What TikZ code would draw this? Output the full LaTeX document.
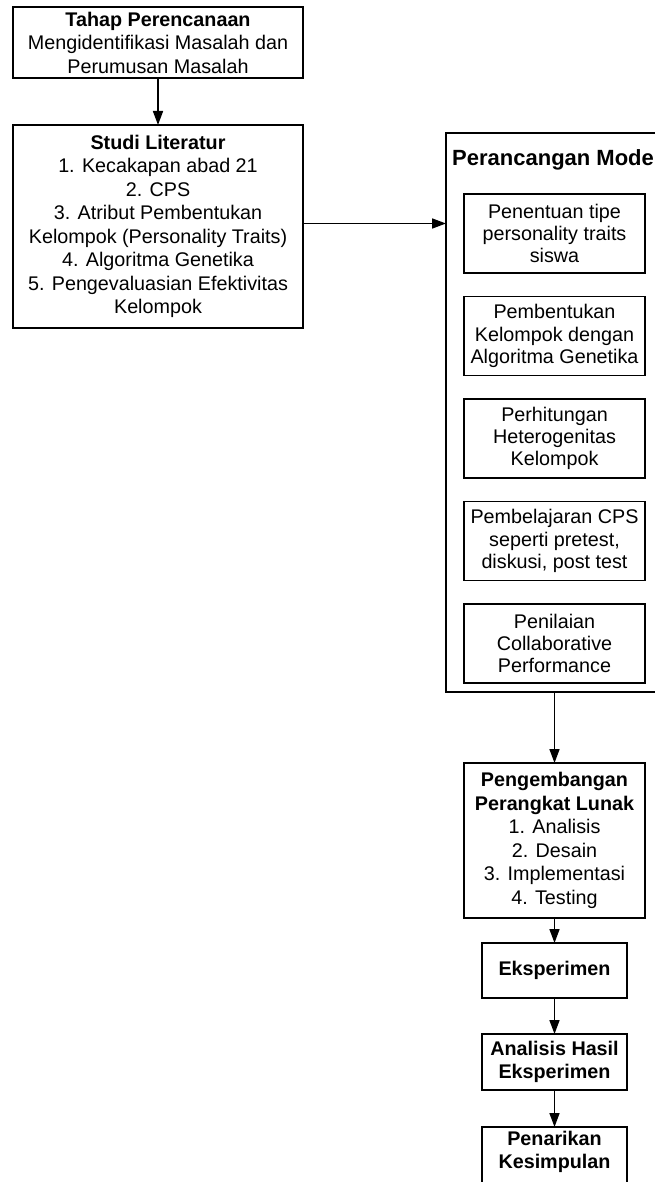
\documentclass[tikz,border=0pt]{standalone}
\usepackage{fontspec}
\setmainfont{Liberation Sans}
\usetikzlibrary{arrows.meta,positioning}
\tikzset{
  stagebox/.style={draw=black, line width=1.6pt, align=center, inner sep=0pt, outer sep=0pt, font=\fontsize{19.75}{23.5}\selectfont},
  stepbox/.style={stagebox, minimum width=181pt, minimum height=79pt, font=\fontsize{19.75}{22.3}\selectfont},
  endbox/.style={stagebox, minimum width=145pt, font=\bfseries\fontsize{19.75}{23.3}\selectfont},
  flowarrow/.style={-{Triangle[length=14pt, width=10pt]}, line width=1.6pt, draw=black},
}

\begin{document}
\begin{tikzpicture}[x=1pt, y=1pt]
    \useasboundingbox (0,0) rectangle (654,-1182);
    % left column
    \node[stagebox, anchor=north west, minimum width=290pt, minimum height=71pt] (plan) at (13,-7) {\textbf{Tahap Perencanaan}\\Mengidentifikasi Masalah dan\\Perumusan Masalah};
    \node[stagebox, below=47pt of plan, minimum width=290pt, minimum height=203pt] (lit) {\textbf{Studi Literatur}\\1. Kecakapan abad 21\\2. CPS\\3. Atribut Pembentukan\\Kelompok (Personality Traits)\\4. Algoritma Genetika\\5. Pengevaluasian Efektivitas\\Kelompok};
    % model design, cut at the right edge
    \node[stagebox, anchor=north west, minimum width=219pt, minimum height=559pt] (model) at (446,-133) {};
    \node[anchor=north west, inner sep=0pt, font=\bfseries\fontsize{22}{26}\selectfont] (modelname) at ([xshift=6pt, yshift=-16pt]model.north west) {Perancangan Mode};
    \node[stepbox, anchor=north] (ptype) at (554.5,-194) {Penentuan tipe\\personality traits\\siswa};
    \node[stepbox, below=23.5pt of ptype] (ga) {Pembentukan\\Kelompok dengan\\Algoritma Genetika};
    \node[stepbox, below=23.5pt of ga] (hetero) {Perhitungan\\Heterogenitas\\Kelompok};
    \node[stepbox, below=23.5pt of hetero] (cps) {Pembelajaran CPS\\seperti pretest,\\diskusi, post test};
    \node[stepbox, below=23.5pt of cps] (assess) {Penilaian\\Collaborative\\Performance};
    % right column
    \node[stagebox, below=80pt of assess, minimum width=181pt, minimum height=155pt] (dev) {\textbf{Pengembangan}\\\textbf{Perangkat Lunak}\\1. Analisis\\2. Desain\\3. Implementasi\\4. Testing};
    \node[endbox, below=25pt of dev, minimum height=55pt] (exp) {Eksperimen};
    \node[endbox, below=36pt of exp, minimum height=56pt] (result) {Analisis Hasil\\Eksperimen};
    \node[endbox, below=37pt of result, minimum height=62pt, text depth=17pt] (concl) {Penarikan\\Kesimpulan};
    \draw[flowarrow] (plan) -- (lit);
    \draw[flowarrow] ([yshift=3pt]lit.east) -- ([yshift=3pt]lit.east -| model.west);
    \draw[flowarrow] (model.south -| dev.north) -- (dev.north);
    \draw[flowarrow] (dev) -- (exp);
    \draw[flowarrow] (exp) -- (result);
    \draw[flowarrow] (result) -- (concl);
\end{tikzpicture}
\end{document}
